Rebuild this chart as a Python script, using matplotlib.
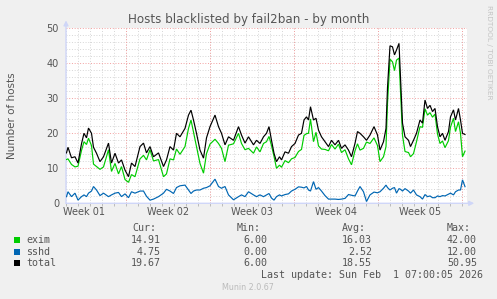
"""Munin month graph: hosts blacklisted by fail2ban."""

import matplotlib

matplotlib.use("Agg")
import matplotlib.pyplot as plt
from matplotlib.patches import Rectangle

# hours since Tue Dec 30 2025 00:00
hours = [1, 4, 11, 18, 24, 31, 36, 41, 45, 51, 55, 61, 68, 75, 85, 91, 98, 105, 111, 118,
         125, 131, 138, 148, 155, 161, 168, 175, 185, 195, 201, 208, 215, 221, 228, 238, 245, 250, 255, 261,
         268, 275, 281, 288, 298, 305, 311, 318, 325, 335, 345, 351, 358, 365, 375, 381, 388, 395, 401, 406,
         411, 416, 421, 427, 431, 438, 445, 451, 458, 465, 471, 476, 481, 485, 489, 495, 500, 505, 511, 518,
         525, 531, 538, 545, 551, 558, 565, 571, 578, 583, 588, 595, 601, 608, 616, 623, 628, 635, 640, 643,
         648, 653, 657, 661, 666, 669, 673, 678, 685, 689, 695, 701, 708, 713, 718, 723, 728, 733, 738, 743,
         748, 753, 758, 765, 769, 775, 779, 785, 789, 793, 798]

exim = [12.5, 12.7, 11.1, 10.4, 10.6, 15.1, 17.6, 16.8, 18.6, 16.5, 11.2, 10.5, 9.7, 10.4, 15.3, 9.1, 11.4, 8.4, 10.5, 6.8,
        6.0, 8.2, 7.6, 12.7, 13.7, 12.4, 15.3, 12.1, 12.5, 7.6, 8.4, 12.7, 12.4, 15.5, 14.0, 16.2, 21.4, 23.8, 20.3, 16.2,
        11.4, 8.6, 14.2, 16.9, 18.3, 17.1, 15.7, 11.9, 16.6, 17.0, 20.0, 17.1, 15.3, 15.7, 14.3, 16.1, 14.7, 17.1, 17.6, 19.1,
        16.5, 13.4, 10.0, 10.9, 10.3, 12.2, 11.6, 12.7, 13.1, 14.8, 15.4, 19.4, 19.9, 20.0, 24.1, 17.6, 20.3, 16.4, 15.5, 15.4,
        15.0, 16.8, 15.5, 16.9, 14.5, 15.3, 12.7, 11.0, 15.0, 17.0, 15.2, 15.7, 17.5, 17.1, 18.7, 16.5, 11.9, 13.3, 16.2, 28.5,
        41.2, 40.4, 37.9, 40.9, 41.5, 32.0, 19.4, 14.8, 14.5, 13.3, 14.2, 17.6, 21.9, 21.7, 27.0, 25.2, 25.9, 24.6, 25.5, 19.8,
        17.1, 17.8, 15.9, 17.9, 21.8, 24.3, 20.5, 23.3, 20.0, 13.3, 14.91]

sshd = [1.9, 3.3, 1.9, 2.9, 0.9, 1.9, 2.4, 1.9, 2.9, 3.5, 4.8, 3.8, 2.2, 2.9, 1.9, 2.4, 2.9, 3.1, 1.9, 2.7,
        1.6, 3.3, 2.9, 3.5, 3.5, 2.0, 0.9, 1.2, 1.9, 2.9, 4.0, 3.5, 2.8, 4.5, 5.0, 5.2, 3.8, 2.8, 3.5, 3.8,
        3.8, 4.3, 4.5, 5.0, 6.9, 4.8, 4.3, 4.8, 2.4, 1.0, 1.9, 2.4, 1.9, 3.3, 2.4, 1.9, 2.4, 1.9, 2.4, 2.8,
        1.5, 0.9, 1.9, 2.4, 2.1, 2.5, 2.7, 3.5, 4.0, 4.7, 4.6, 4.4, 4.8, 3.8, 3.5, 6.2, 4.0, 4.5, 3.5, 2.2,
        1.2, 1.2, 1.2, 1.1, 1.2, 1.4, 2.5, 2.3, 2.1, 3.5, 4.8, 3.3, 0.5, 2.4, 3.2, 3.0, 3.3, 4.3, 5.2, 4.5,
        3.8, 4.3, 4.5, 2.9, 4.2, 4.0, 3.5, 4.2, 3.5, 2.9, 3.8, 2.4, 1.9, 1.2, 2.5, 1.9, 2.1, 1.6, 1.6, 2.1,
        1.9, 2.2, 2.1, 2.6, 2.9, 2.4, 3.3, 3.8, 3.8, 6.7, 4.75]

# munin's "total" is the sum of the two series
total = [e + s for e, s in zip(exim, sshd)]

series_names = ["exim", "sshd", "total"]
series_colors = ["#00CC00", "#0066B3", "#000000"]
stat_cur = ["14.91", "4.75", "19.67"]
stat_min = ["6.00", "0.00", "6.00"]
stat_avg = ["16.03", "2.52", "18.55"]
stat_max = ["42.00", "12.00", "50.95"]

week_labels = ["Week 01", "Week 02", "Week 03", "Week 04", "Week 05"]
first_sunday = 120  # Sun Jan 4 00:00
week_len = 168

W, H = 497, 299
fig = plt.figure(figsize=(W / 100, H / 100), dpi=100, facecolor="#F0F0F0")
ax = fig.add_axes([66 / W, 1 - 203.3 / H, 401 / W, 175 / H])
ax.set_facecolor("white")

txt = "#555555"
for s in ax.spines.values():
    s.set_visible(False)

ax.set_xlim(0, 802)
ax.set_ylim(0, 50)

# grid
day_ticks = list(range(0, 802, 24))
week_lines = [first_sunday + week_len * k for k in range(5)]
ax.set_xticks(day_ticks, minor=True)
ax.set_xticks([first_sunday - 84 + week_len * k for k in range(5)], week_labels)
ax.set_yticks(range(0, 51, 10))
ax.set_yticks(range(0, 51, 2), minor=True)
dot = (0, (1, 1.8))
ax.grid(which="minor", color="#D6D6D6", lw=0.7, ls=dot)
for x in week_lines:
    ax.axvline(x, color="#F2A0A0", lw=0.7, ls=dot, zorder=0.6)
for y in range(10, 51, 10):
    ax.axhline(y, color="#F2A0A0", lw=0.7, ls=dot, zorder=0.6)
ax.set_axisbelow(True)

ax.tick_params(axis="x", which="major", length=0, pad=3, labelsize=7, labelcolor=txt)
ax.tick_params(axis="x", which="minor", length=2, width=0.7, color="#BBBBBB")
ax.tick_params(axis="y", which="major", length=0, pad=5, labelsize=7, labelcolor=txt)
ax.tick_params(axis="y", which="minor", length=0)
for t, pos in zip(ax.xaxis.get_minor_ticks(), day_ticks):
    if pos in week_lines:
        t.tick1line.set_color("#F07070")

# axes with arrows
axis_col = "#CFD6F8"
ax.annotate("", xy=(0, 1.045), xytext=(0, 0), xycoords="axes fraction",
            arrowprops=dict(arrowstyle="-|>", color=axis_col, lw=1, mutation_scale=7,
                            shrinkA=0, shrinkB=0), annotation_clip=False)
ax.annotate("", xy=(1.018, 0), xytext=(0, 0), xycoords="axes fraction",
            arrowprops=dict(arrowstyle="-|>", color=axis_col, lw=1, mutation_scale=7,
                            shrinkA=0, shrinkB=0), annotation_clip=False)

for vals, col in zip([exim, sshd, total], series_colors):
    ax.plot(hours, vals, color=col, lw=0.85, solid_joinstyle="miter", zorder=3)

def px(x, y):
    return x / W, 1 - y / H

fig.text(*px(248.5, 19), "Hosts blacklisted by fail2ban - by month", ha="center", va="center",
         fontsize=8.6, color=txt)
fig.text(*px(12, 116), "Number of hosts", rotation=90, ha="center", va="center", fontsize=7.5, color=txt)
fig.text(*px(489, 5), "RRDTOOL / TOBI OETIKER", rotation=270, ha="center", va="top",
         fontsize=5.3, color="#C4C4C4")

mono = dict(family="DejaVu Sans Mono", fontsize=7.2, color=txt, va="center")
header_y = 228
for head, left in zip(["Cur:", "Min:", "Avg:", "Max:"], [132, 237, 342, 447]):
    fig.text(*px(left, header_y), head, ha="left", **mono)
for i, name in enumerate(series_names):
    y = 240 + 11.7 * i
    fig.patches.append(Rectangle(px(14, y + 3), 6 / W, 6 / H, transform=fig.transFigure,
                                 facecolor=series_colors[i], edgecolor="none"))
    fig.text(*px(26, y), name, ha="left", **mono)
    for col, right in zip([stat_cur, stat_min, stat_avg, stat_max], [161, 267, 372, 477]):
        fig.text(*px(right, y), col[i], ha="right", **mono)
fig.text(*px(483, 275.5), "Last update: Sun Feb  1 07:00:05 2026", ha="right", **mono)
fig.text(*px(248, 288), "Munin 2.0.67", ha="center", va="center", fontsize=5.8, color="#BBBBBB")

fig.savefig("out.png", dpi=100, facecolor=fig.get_facecolor())
